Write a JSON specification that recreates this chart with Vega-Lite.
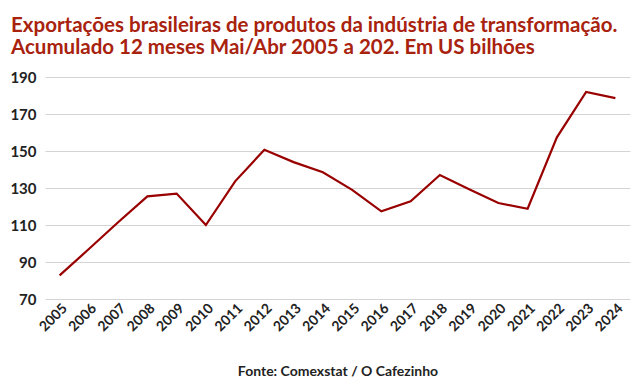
{
  "$schema": "https://vega.github.io/schema/vega-lite/v6.json",
  "autosize": {"type": "none"},
  "width": 585,
  "height": 222,
  "padding": {"left": 45, "top": 77, "right": 12, "bottom": 90},
  "background": "white",
  "title": {
    "text": ["Exportações brasileiras de produtos da indústria de transformação.", "Acumulado 12 meses Mai/Abr 2005 a 202. Em US bilhões"],
    "anchor": "start",
    "frame": "group",
    "dx": -34,
    "offset": 12,
    "font": "Lato",
    "fontSize": 20.5,
    "fontWeight": "bold",
    "color": "#a8220e",
    "lineHeight": 22
  },
  "data": {
    "values": [
      {"ano": "2005", "valor": 82.8},
      {"ano": "2006", "valor": 97},
      {"ano": "2007", "valor": 111.5},
      {"ano": "2008", "valor": 125.5},
      {"ano": "2009", "valor": 127},
      {"ano": "2010", "valor": 110},
      {"ano": "2011", "valor": 133.6},
      {"ano": "2012", "valor": 150.7},
      {"ano": "2013", "valor": 144},
      {"ano": "2014", "valor": 138.5},
      {"ano": "2015", "valor": 129},
      {"ano": "2016", "valor": 117.4},
      {"ano": "2017", "valor": 122.8},
      {"ano": "2018", "valor": 137},
      {"ano": "2019", "valor": 129.3},
      {"ano": "2020", "valor": 121.9},
      {"ano": "2021", "valor": 118.8},
      {"ano": "2022", "valor": 157.4},
      {"ano": "2023", "valor": 181.9},
      {"ano": "2024", "valor": 178.6}
    ]
  },
  "mark": {"type": "line", "color": "#990000", "strokeWidth": 2.2},
  "encoding": {
    "x": {
      "field": "ano",
      "type": "ordinal",
      "scale": {"type": "point", "padding": 0.5},
      "axis": {
        "title": "Fonte: Comexstat / O Cafezinho",
        "titleFont": "Lato",
        "titleFontSize": 14,
        "titleFontWeight": "bold",
        "titleColor": "#222222",
        "titlePadding": 31,
        "labelAngle": -45,
        "labelFont": "Lato",
        "labelFontSize": 14,
        "labelFontWeight": "bold",
        "labelColor": "#222222",
        "labelPadding": 2,
        "domain": false,
        "ticks": false,
        "grid": false
      }
    },
    "y": {
      "field": "valor",
      "type": "quantitative",
      "scale": {"domain": [70, 190], "nice": false, "zero": false},
      "axis": {
        "title": null,
        "values": [70, 90, 110, 130, 150, 170, 190],
        "labelFont": "Lato",
        "labelFontSize": 15,
        "labelFontWeight": "bold",
        "labelColor": "#222222",
        "labelPadding": 9,
        "domain": false,
        "ticks": false,
        "gridColor": "#d4d4d4",
        "gridWidth": 1.2
      }
    }
  },
  "config": {"view": {"stroke": null}}
}
